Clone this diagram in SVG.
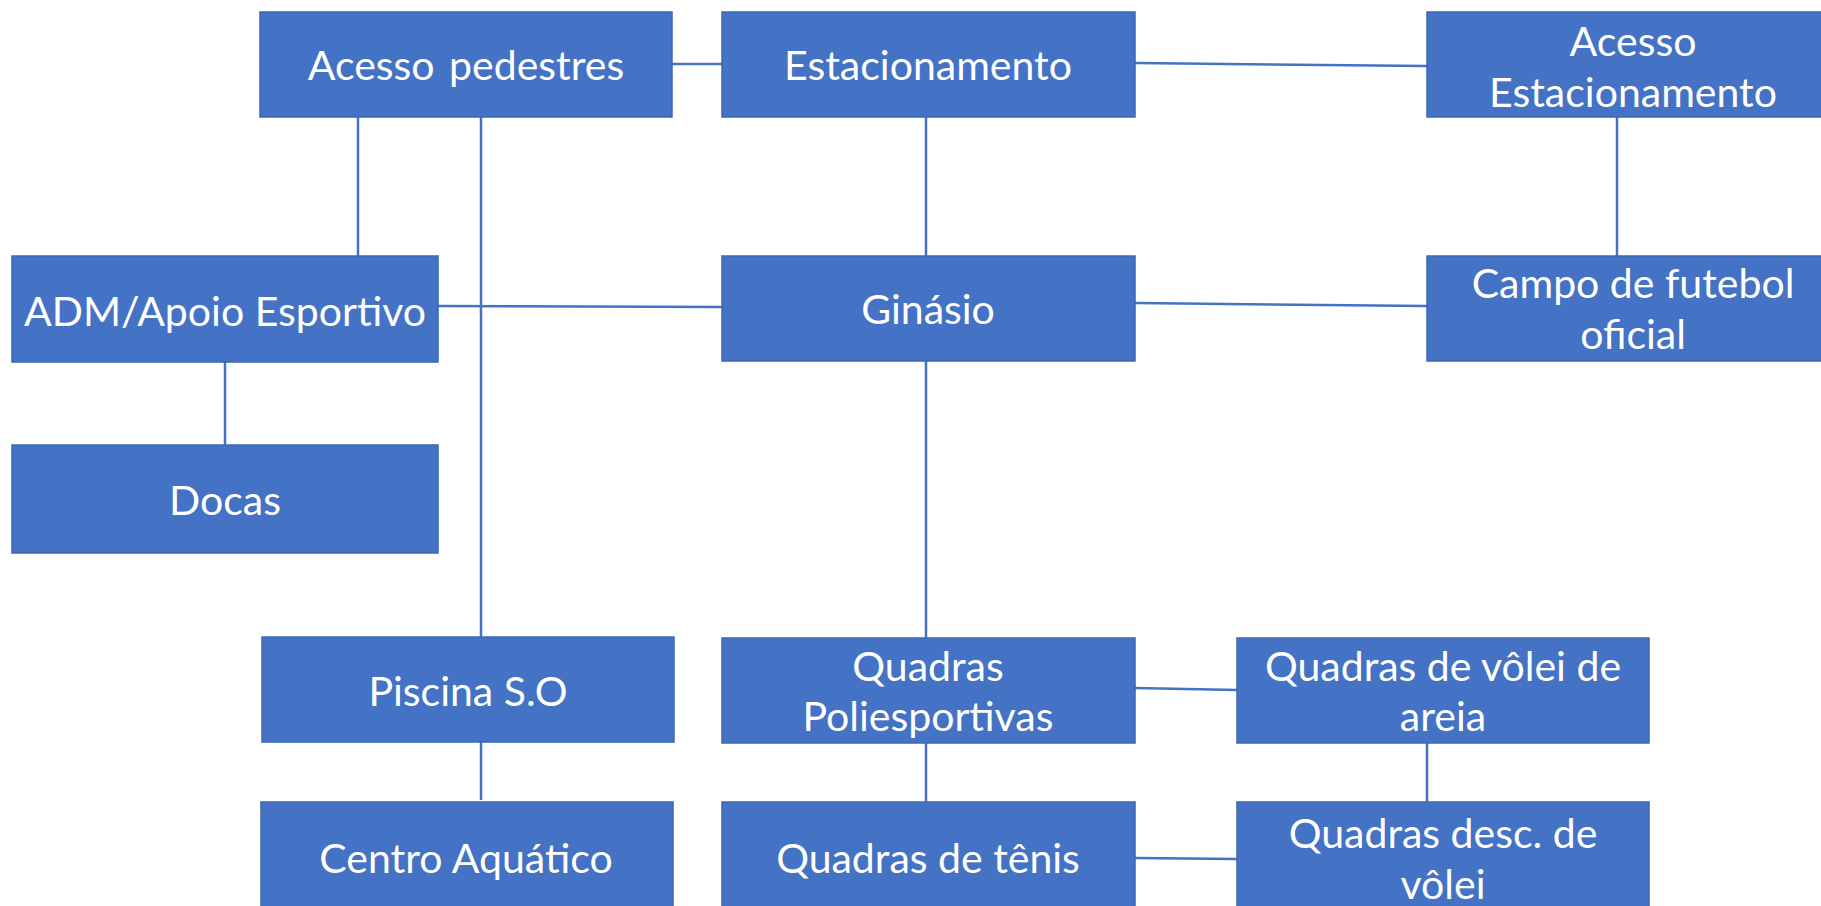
<svg xmlns="http://www.w3.org/2000/svg" width="1821" height="906" viewBox="0 0 1821 906">
<style>
.box{fill:#4472C4;stroke:#3B67B5;stroke-width:1.5}
.t{font-family:Lato,"Open Sans","Liberation Sans",sans-serif;font-size:41px;fill:#FFFFFF;text-anchor:middle;dominant-baseline:central}
.c{stroke:#4472C4;stroke-width:2.5;fill:none}
</style>
<rect width="1821" height="906" fill="#FFFFFF"/>
<g id="connectors">
<line class="c" x1="672" y1="64" x2="722" y2="64"/>
<line class="c" x1="1135" y1="63" x2="1427" y2="66"/>
<line class="c" x1="358" y1="117" x2="358" y2="256"/>
<line class="c" x1="481" y1="117" x2="481" y2="637"/>
<line class="c" x1="438" y1="306" x2="722" y2="307"/>
<line class="c" x1="225" y1="362" x2="225" y2="445"/>
<line class="c" x1="926" y1="117" x2="926" y2="256"/>
<line class="c" x1="1617" y1="117" x2="1617" y2="256"/>
<line class="c" x1="1135" y1="303" x2="1427" y2="306"/>
<line class="c" x1="926" y1="361" x2="926" y2="638"/>
<line class="c" x1="481" y1="742" x2="481" y2="800"/>
<line class="c" x1="1135" y1="688" x2="1237" y2="690"/>
<line class="c" x1="926" y1="743" x2="926" y2="802"/>
<line class="c" x1="1427" y1="743" x2="1427" y2="802"/>
<line class="c" x1="1135" y1="858" x2="1237" y2="859"/>
</g>
<g id="acesso-pedestres"><rect class="box" x="260" y="12" width="412" height="105"/><text class="t" x="466" y="64" word-spacing="4">Acesso pedestres</text></g>
<g id="estacionamento"><rect class="box" x="722" y="12" width="413" height="105"/><text class="t" x="928" y="64">Estacionamento</text></g>
<g id="acesso-estacionamento"><rect class="box" x="1427" y="12" width="412" height="105"/><text class="t" x="1633" y="40">Acesso</text><text class="t" x="1633" y="91">Estacionamento</text></g>
<g id="adm"><rect class="box" x="12" y="256" width="426" height="106"/><text class="t" x="225" y="310">ADM/Apoio Esportivo</text></g>
<g id="ginasio"><rect class="box" x="722" y="256" width="413" height="105"/><text class="t" x="928" y="308">Ginásio</text></g>
<g id="campo"><rect class="box" x="1427" y="256" width="412" height="105"/><text class="t" x="1633" y="282">Campo de futebol</text><text class="t" x="1633" y="333">oficial</text></g>
<g id="docas"><rect class="box" x="12" y="445" width="426" height="108"/><text class="t" x="225" y="499">Docas</text></g>
<g id="piscina"><rect class="box" x="262" y="637" width="412" height="105"/><text class="t" x="468" y="690">Piscina S.O</text></g>
<g id="centro-aquatico"><rect class="box" x="261" y="802" width="412" height="105"/><text class="t" x="466" y="857">Centro Aquático</text></g>
<g id="quadras-poli"><rect class="box" x="722" y="638" width="413" height="105"/><text class="t" x="928" y="665">Quadras</text><text class="t" x="928" y="715">Poliesportivas</text></g>
<g id="volei-areia"><rect class="box" x="1237" y="638" width="412" height="105"/><text class="t" x="1443" y="665">Quadras de vôlei de</text><text class="t" x="1443" y="715">areia</text></g>
<g id="tenis"><rect class="box" x="722" y="802" width="413" height="105"/><text class="t" x="928" y="857">Quadras de tênis</text></g>
<g id="desc-volei"><rect class="box" x="1237" y="802" width="412" height="105"/><text class="t" x="1443" y="832">Quadras desc. de</text><text class="t" x="1443" y="883">vôlei</text></g>
</svg>
